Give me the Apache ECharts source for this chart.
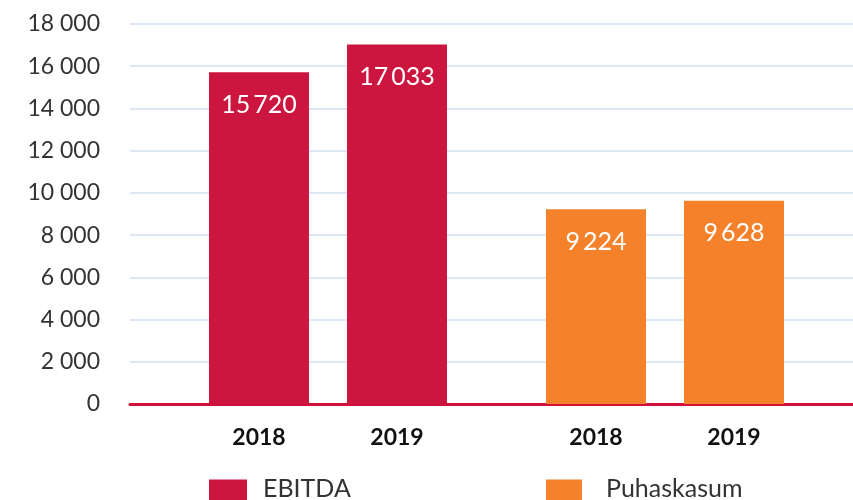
<!DOCTYPE html>
<html>
<head>
<meta charset="utf-8">
<script src="https://cdn.jsdelivr.net/npm/echarts@6/dist/echarts.min.js"></script>
<style>
  html, body { margin: 0; padding: 0; background: #fff; }
  #chart { width: 853px; height: 500px; }
</style>
</head>
<body>
<div id="chart"></div>
<script>
var years = ['2018', '2019'];
var ebitda = [15720, 17033];
var puhaskasum = [9224, 9628];
var yMax = 18000;
var yStep = 2000;

var font = 'Lato';
function fmt(v, sep) {
  return String(v).replace(/\B(?=(\d{3})+(?!\d))/g, sep || '\u2009');
}

var chart = echarts.init(document.getElementById('chart'), null, { renderer: 'canvas' });

var valueLabel = {
  show: true,
  position: 'insideTop',
  distance: 20,
  color: '#fff',
  fontFamily: font,
  fontSize: 25,
  formatter: function (p) { return fmt(p.value); }
};

var hiddenY = { type: 'value', min: 0, max: yMax, interval: yStep, show: false };
function yearAxis(idx) {
  return {
    type: 'category', gridIndex: idx, data: years,
    axisLine: { show: false }, axisTick: { show: false },
    axisLabel: { color: '#111', fontFamily: font, fontWeight: 'bold', fontSize: 23, margin: 22 }
  };
}

// legend text sits higher than the swatch centre, so add an empty second line
var legendText = { fontFamily: font, fontSize: 25, color: '#333', lineHeight: 20 };
function legendFmt(name) { return name + '\n'; }

var option = {
  animation: false,
  grid: [
    { left: 130, right: 0, top: 24, bottom: 96 },
    { left: 190, width: 276, top: 24, bottom: 96 },
    { left: 527, width: 276, top: 24, bottom: 96 }
  ],
  xAxis: [
    { type: 'category', gridIndex: 0, data: [''],
      axisLine: { show: true, lineStyle: { color: '#d0103a', width: 3 } },
      axisTick: { show: false }, axisLabel: { show: false } },
    yearAxis(1),
    yearAxis(2)
  ],
  yAxis: [
    { type: 'value', gridIndex: 0, min: 0, max: yMax, interval: yStep,
      axisLine: { show: false }, axisTick: { show: false },
      axisLabel: { color: '#333', fontFamily: font, fontSize: 23, margin: 30,
        formatter: function (v) { return fmt(v, ' '); } },
      splitLine: { lineStyle: { color: '#dde8f5', width: 2 } } },
    Object.assign({ gridIndex: 1 }, hiddenY),
    Object.assign({ gridIndex: 2 }, hiddenY)
  ],
  legend: [
    { left: 209, top: 476, padding: 0, data: ['EBITDA'], itemWidth: 38, itemHeight: 38, icon: 'rect',
      itemGap: 0, formatter: legendFmt,
      textStyle: Object.assign({ padding: [0, 0, 0, 11] }, legendText) },
    { left: 546, top: 476, padding: 0, data: ['Puhaskasum'], itemWidth: 36, itemHeight: 38, icon: 'rect',
      itemGap: 0, formatter: legendFmt,
      textStyle: Object.assign({ padding: [0, 0, 0, 19] }, legendText) }
  ],
  series: [
    { name: 'EBITDA', type: 'bar', xAxisIndex: 1, yAxisIndex: 1, data: ebitda,
      barWidth: 100, itemStyle: { color: '#cc1640' }, label: valueLabel, z: 1 },
    { name: 'Puhaskasum', type: 'bar', xAxisIndex: 2, yAxisIndex: 2, data: puhaskasum,
      barWidth: 100, itemStyle: { color: '#f5822a' }, label: valueLabel, z: 1 }
  ]
};
chart.setOption(option);
</script>
</body>
</html>
